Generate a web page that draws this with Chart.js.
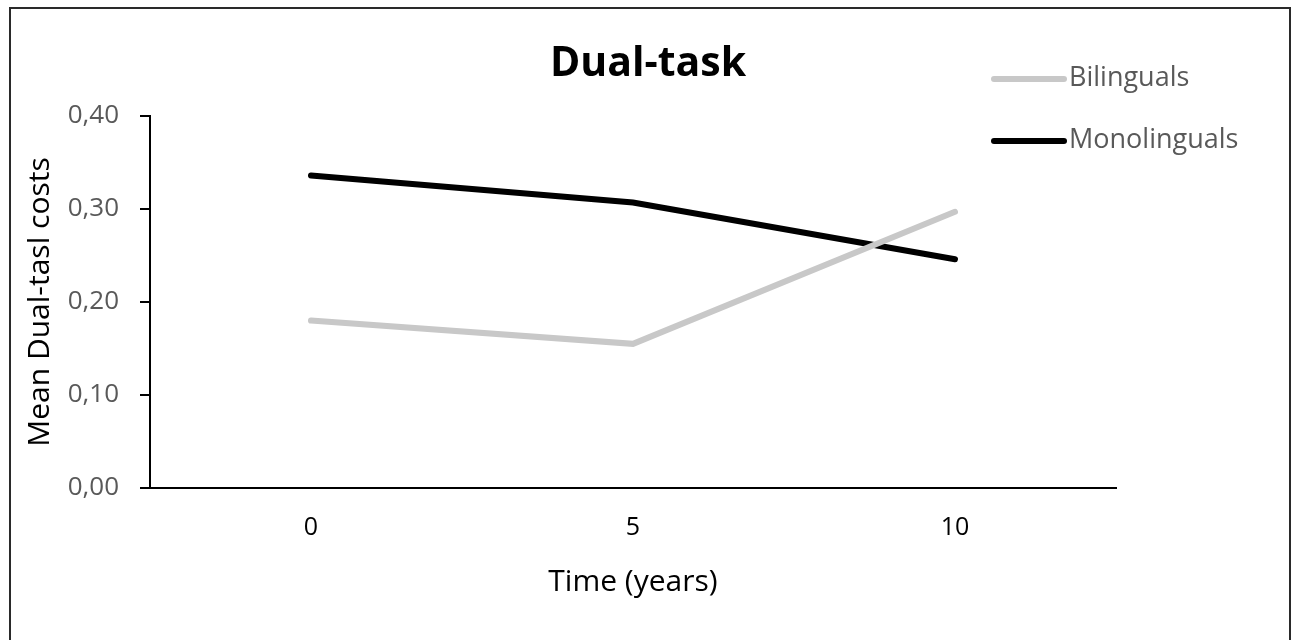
<!DOCTYPE html>
<html lang="en">
<head>
  <meta charset="UTF-8" />
  <title>Dual-task</title>
  <script src="https://cdn.jsdelivr.net/npm/chart.js"></script>
  <style>
    body { margin: 0; background: #fff; overflow: hidden; }
    #wrap { position: absolute; left: 0; top: 0; width: 1293px; height: 640px; }
    #frame { position: absolute; left: 9px; top: 7px; width: 1278px; height: 700px; border: 2px solid #2a2a2a; pointer-events: none; }
  </style>
</head>
<body>
  <div id="wrap">
    <canvas id="dualChart" width="1293" height="640"></canvas>
    <div id="frame"></div>
  </div>

  <script>
    const years = ['0', '5', '10'];
    const bilinguals = [0.180, 0.155, 0.297];
    const monolinguals = [0.336, 0.307, 0.246];
    const yTicks = [0, 0.1, 0.2, 0.3, 0.4];

    const FONT = "'Open Sans', sans-serif";

    // title + legend drawn by hand to sit where the original has them
    const decor = {
      id: 'decor',
      afterDraw(chart) {
        const ctx = chart.ctx;
        ctx.save();
        ctx.fillStyle = '#000';
        ctx.font = "bold 41px " + FONT;
        ctx.textAlign = 'center';
        ctx.textBaseline = 'middle';
        ctx.fillText('Dual-task', 648, 64);

        ctx.font = "27px " + FONT;
        ctx.textAlign = 'left';
        chart.data.datasets.forEach((ds, i) => {
          const y = 79 + i * 62;
          ctx.strokeStyle = ds.borderColor;
          ctx.lineWidth = ds.borderWidth;
          ctx.lineCap = 'round';
          ctx.beginPath();
          ctx.moveTo(994, y);
          ctx.lineTo(1064, y);
          ctx.stroke();
          ctx.fillStyle = '#595959';
          ctx.fillText(ds.label, 1069, y - 1);
        });
        ctx.restore();
      }
    };

    new Chart(document.getElementById('dualChart'), {
      type: 'line',
      data: {
        labels: years,
        datasets: [
          { label: 'Bilinguals', data: bilinguals, borderColor: '#c8c8c8', borderWidth: 6, pointRadius: 0, borderCapStyle: 'round', tension: 0 },
          { label: 'Monolinguals', data: monolinguals, borderColor: '#000000', borderWidth: 6, pointRadius: 0, borderCapStyle: 'round', tension: 0 }
        ]
      },
      options: {
        responsive: false,
        animation: false,
        layout: { padding: { top: 116, right: 177, left: 0, bottom: 0 } },
        plugins: { legend: { display: false }, title: { display: false }, tooltip: { enabled: false } },
        scales: {
          x: {
            offset: true,
            grid: { display: true, drawOnChartArea: false, drawTicks: false, tickLength: 0 },
            border: { display: true, color: '#000', width: 2 },
            ticks: { color: '#000', padding: 25, font: { family: FONT, size: 25 } },
            title: { display: true, text: 'Time (years)', color: '#000', font: { family: FONT, size: 30 }, padding: { top: 0, bottom: 40 } },
            afterFit(scale) { scale.height = 152; }
          },
          y: {
            min: 0,
            max: 0.4,
            afterBuildTicks(scale) { scale.ticks = yTicks.map(v => ({ value: v })); },
            grid: { drawOnChartArea: false, drawTicks: true, tickLength: 10, color: '#000', lineWidth: 2 },
            border: { display: true, color: '#000', width: 2 },
            ticks: {
              color: '#595959',
              padding: 21,
              font: { family: FONT, size: 26 },
              callback: v => v.toFixed(2).replace('.', ',')
            },
            title: { display: true, text: 'Mean Dual-tasl costs', color: '#000', font: { family: FONT, size: 30 }, padding: { top: 22, bottom: 0 } },
            afterFit(scale) { scale.width = 150; }
          }
        }
      },
      plugins: [decor]
    });
  </script>
</body>
</html>
